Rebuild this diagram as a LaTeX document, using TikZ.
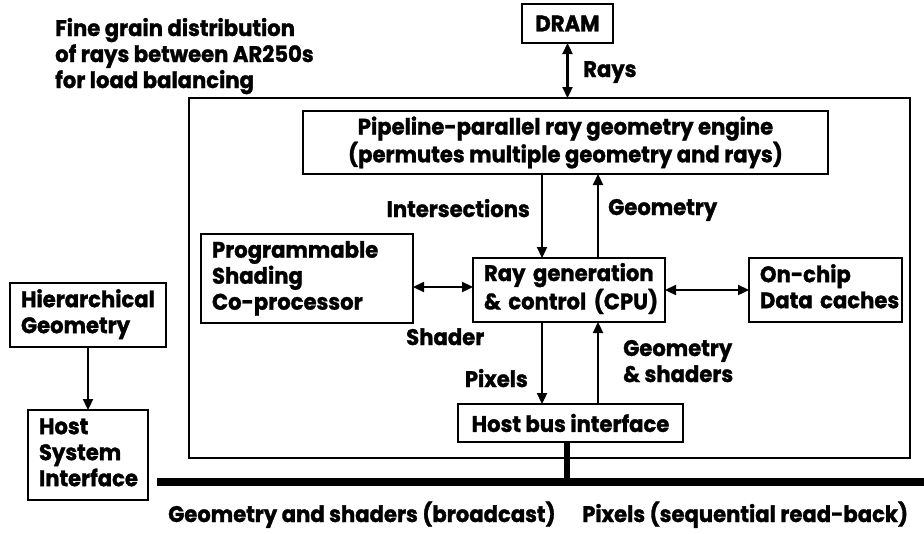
\documentclass[tikz,border=0pt]{standalone}
\usepackage{fontspec}
\setmainfont{Poppins}[FakeStretch=0.94, BoldFeatures={FakeBold=1.3}]
\usetikzlibrary{arrows.meta}
\newcommand{\lblfont}{\fontsize{22.5}{26}\selectfont\bfseries}
\newcommand{\rows}[1]{\begin{tabular}[t]{@{}l@{}}#1\end{tabular}}
\tikzset{
  box/.style={draw, line width=2.8pt, outer sep=0pt, inner xsep=11pt, inner ysep=0pt,
              align=left, anchor=north west, font=\lblfont},
  cbox/.style={box, align=center, inner xsep=0pt},
  lab/.style={anchor=base west, inner sep=0pt, font=\lblfont},
  tip/.tip={Triangle[length=11pt,width=10pt]},
  arr/.style={line width=2.3pt, -tip},
  darr/.style={line width=2.3pt, tip-tip},
  bus/.style={line width=8pt},
}
\begin{document}
\begin{tikzpicture}[x=1pt,y=-1pt]
\useasboundingbox (0,0) rectangle (924,533);

% title
\node[lab] (title) at (55,36)
  {\rows{Fine grain distribution\\of rays between AR250s\\for load balancing}};

% chip outline
\node[draw, line width=1.4pt, outer sep=0pt, inner sep=0pt, anchor=north west,
      minimum width=721pt, minimum height=360pt] (chip) at (189,98) {};

% blocks
\node[cbox, minimum width=91pt, minimum height=39pt] (dram) at (522,4) {DRAM};
\node[cbox, minimum width=525pt, minimum height=63pt] (pipe) at (303,111)
  {Pipeline-parallel ray geometry engine\\(permutes multiple geometry and rays)};
\node[box, text width=190pt, minimum height=89pt] (prog) at (201,234)
  {\rows{Programmable\\Shading\\Co-processor}};
\node[box, text width=170pt, minimum height=64pt] (ray) at (473,258)
  {\rows{Ray generation\\\& control (CPU)}};
\node[box, text width=131pt, minimum height=64pt] (cache) at (749,258)
  {\rows{On-chip\\Data caches}};
\node[cbox, minimum width=225pt, minimum height=38pt] (hbi) at (458,404)
  {Host bus interface};
\node[box, text width=134pt, minimum height=64pt] (hier) at (10,283)
  {\rows{Hierarchical\\Geometry}};
\node[box, text width=98pt, minimum height=90pt] (host) at (28,410)
  {\rows{Host\\System\\Interface}};

% column / row references
\coordinate (xa) at (542,0);
\coordinate (xb) at (598,0);
\coordinate (ya) at (0,287);
\coordinate (busL) at (157,482);
\coordinate (busR) at (924,482);
\coordinate (busT) at (567,482);

% connectors
\draw[darr] (dram.south) -- (dram.south |- chip.north);
\draw[arr] (pipe.south -| xa) -- (ray.north -| xa);
\draw[arr] (ray.north -| xb) -- (pipe.south -| xb);
\draw[darr] (prog.east |- ya) -- (ray.west |- ya);
\draw[darr] (ray.east) -- (cache.west);
\draw[arr] (ray.south -| xa) -- (hbi.north -| xa);
\draw[arr] (hbi.north -| xb) -- (ray.south -| xb);
\draw[arr] (hier.south) -- (host.north);
\draw[bus] (busL) -- (busR);
\draw[line width=5.5pt] (hbi.south -| busT) -- (busT);

% labels
\node[lab] (lrays) at (583,77) {Rays};
\node[lab, anchor=base east] (linter) at (530,217) {Intersections};
\node[lab] (lgeo) at (608,215) {Geometry};
\node[lab] (lshader) at (406,345) {Shader};
\node[lab, anchor=base east] (lpix) at (528,387) {Pixels};
\node[lab] (lgeosh) at (623,356) {\rows{Geometry\\\& shaders}};
\node[lab] (lbcast) at (168,522) {Geometry and shaders (broadcast)};
\node[lab] (lread) at (582,522) {Pixels (sequential read-back)};
\end{tikzpicture}
\end{document}
